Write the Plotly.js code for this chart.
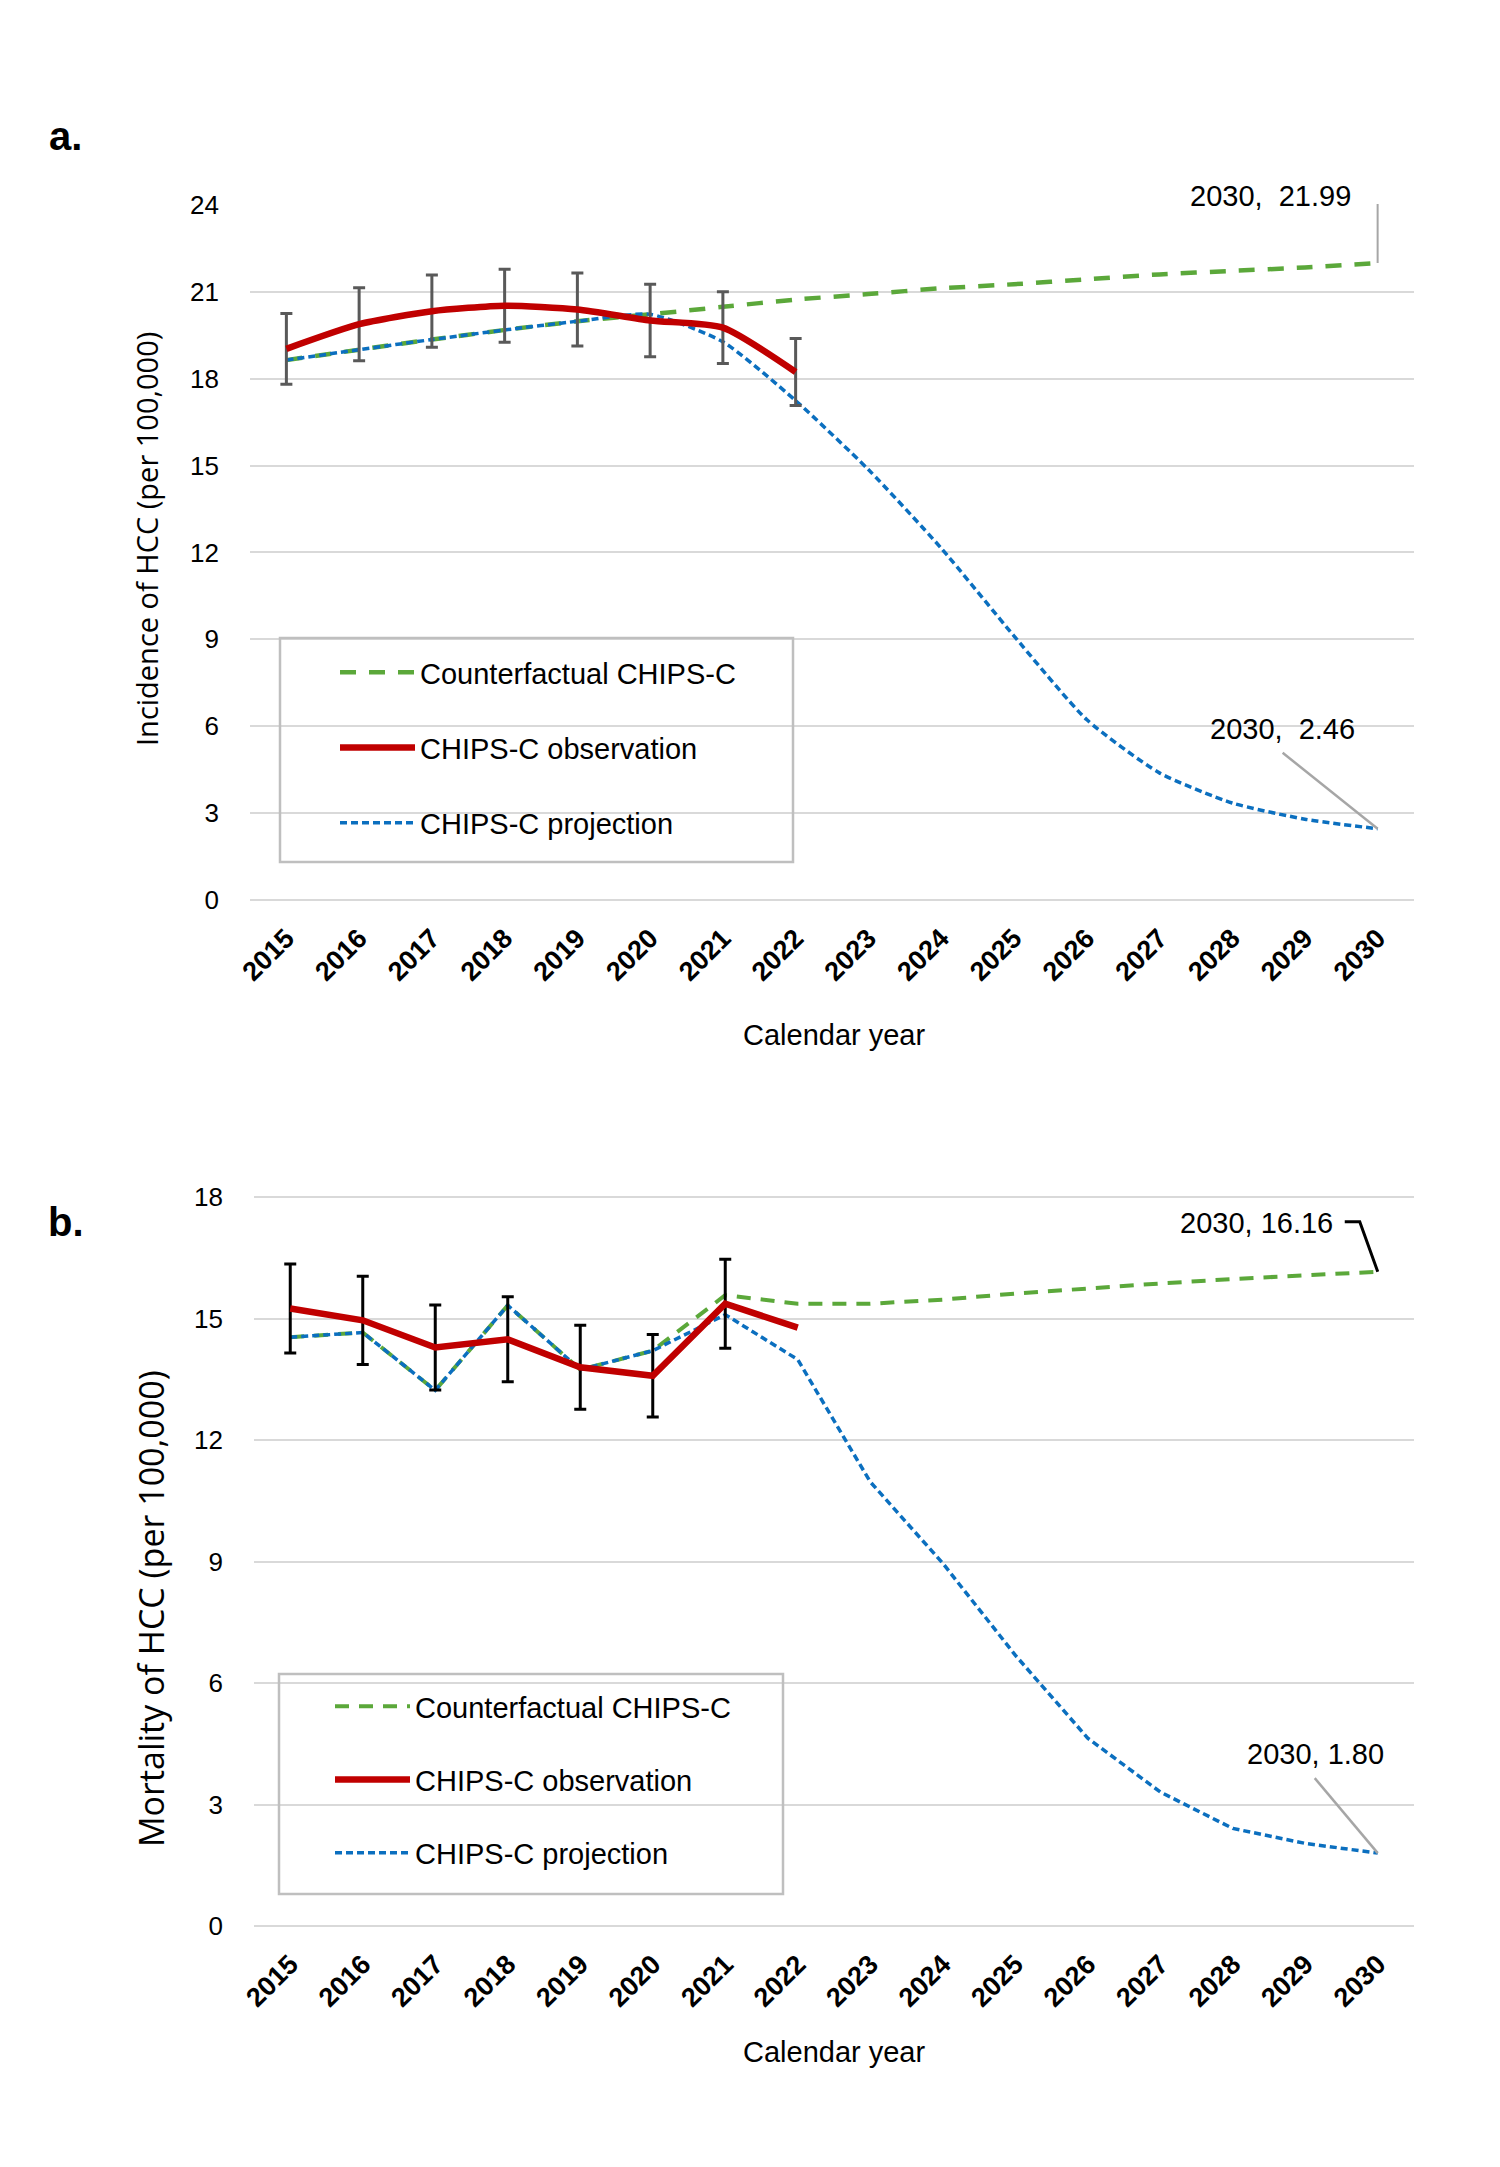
<!DOCTYPE html>
<html>
<head>
<meta charset="utf-8">
<script src="https://cdn.plot.ly/plotly-3.0.1.min.js"></script>
<style>
  body { margin: 0; background: #fff; }
  #myDiv { width: 1500px; height: 2167px; }
</style>
</head>
<body>
<div id="myDiv"></div>
<script>
// calendar years (category axis)
var years = ['2015','2016','2017','2018','2019','2020','2021','2022',
             '2023','2024','2025','2026','2027','2028','2029','2030'];
var obsYears = years.slice(0, 8);

// a. incidence of HCC (per 100,000)
var incCounter = [18.64, 19.00, 19.35, 19.68, 19.98, 20.22, 20.48, 20.73,
                  20.92, 21.12, 21.26, 21.43, 21.60, 21.72, 21.84, 21.99];
var incObs     = [19.03, 19.88, 20.33, 20.52, 20.39, 20.01, 19.76, 18.23];
var incObsErr  = [1.22, 1.26, 1.25, 1.26, 1.26, 1.25, 1.24, 1.16];
var incProj    = [18.64, 19.00, 19.35, 19.68, 19.98, 20.22, 19.27, 17.24,
                  14.86, 12.15, 9.12, 6.23, 4.39, 3.35, 2.79, 2.46];

// b. mortality of HCC (per 100,000)
var morCounter = [14.54, 14.66, 13.23, 15.33, 13.74, 14.21, 15.58, 15.37,
                  15.37, 15.47, 15.62, 15.75, 15.87, 15.98, 16.07, 16.16];
var morObs     = [15.25, 14.96, 14.29, 14.49, 13.80, 13.59, 15.37, 14.78];
var morObsErr  = [1.10, 1.09, 1.05, 1.05, 1.04, 1.02, 1.10, NaN];
var morProj    = [14.54, 14.66, 13.23, 15.33, 13.74, 14.21, 15.10, 13.99,
                  10.97, 8.96, 6.69, 4.64, 3.31, 2.41, 2.04, 1.80];

var W = 1500, H = 2167;
function px(v) { return v / W; }
function py(v) { return 1 - v / H; }

var GREEN = '#5BA83A', RED = '#C00000', BLUE = '#0B6FBF';
var LAB = 'Liberation Sans, Arial, sans-serif';
var TITLE = 'Open Sans, DejaVu Sans, sans-serif';
var LAST = years.length - 1;   // category index of 2030

function makeTraces(xa, ya, leg, counter, obs, err, proj, errColor, smooth) {
  var shape = smooth ? 'spline' : 'linear';
  return [
    {
      x: years, y: counter, xaxis: xa, yaxis: ya, legend: leg,
      type: 'scatter', mode: 'lines', name: 'Counterfactual CHIPS-C',
      legendgroup: leg + 'g', legendrank: 1,
      line: {color: GREEN, width: smooth ? 4.5 : 4, dash: smooth ? '16px,13px' : '14px,10px', shape: shape, smoothing: 0.6}
    },
    {
      x: years, y: proj, xaxis: xa, yaxis: ya, legend: leg,
      type: 'scatter', mode: 'lines', name: 'CHIPS-C projection',
      legendgroup: leg + 'b', legendrank: 3,
      line: {color: BLUE, width: 3.5, dash: '7px,4px', shape: shape, smoothing: 0.6}
    },
    {
      x: obsYears, y: obs, xaxis: xa, yaxis: ya, legend: leg,
      type: 'scatter', mode: 'lines', name: 'CHIPS-C observation',
      legendgroup: leg + 'r', legendrank: 2,
      line: {color: RED, width: 6.5, shape: shape, smoothing: 0.6},
      error_y: {type: 'data', array: err, visible: true, color: errColor, thickness: 3, width: 6}
    }
  ];
}

var data = []
  .concat(makeTraces('x', 'y', 'legend', incCounter, incObs, incObsErr, incProj, '#595959', true))
  .concat(makeTraces('x2', 'y2', 'legend2', morCounter, morObs, morObsErr, morProj, '#000000', false));

function xAxis(domain, anchor) {
  return {
    domain: domain, anchor: anchor, type: 'category', range: [-0.5, 15.5],
    showgrid: false, zeroline: false, showline: false, ticks: '',
    tickangle: -45, ticklabelstandoff: 16,
    tickfont: {family: LAB, size: 27, color: '#000', weight: 'bold'},
    fixedrange: true
  };
}
function yAxis(domain, anchor, max) {
  return {
    domain: domain, anchor: anchor, range: [0, max + 0.03], dtick: 3, tick0: 0,
    showgrid: true, gridcolor: '#D9D9D9', gridwidth: 2,
    zeroline: true, zerolinecolor: '#D9D9D9', zerolinewidth: 2,
    showline: false, ticks: '', ticklabelstandoff: 30,
    tickfont: {family: LAB, size: 26, color: '#000'},
    fixedrange: true
  };
}
function legendBox(x0, y0, gap) {
  return {
    x: px(x0), y: py(y0), xanchor: 'left', yanchor: 'top',
    bgcolor: 'rgba(0,0,0,0)', borderwidth: 0, itemwidth: 75,
    font: {family: LAB, size: 29, color: '#000'},
    traceorder: 'grouped', tracegroupgap: gap
  };
}
function rect(x0, y0, x1, y1) {
  return {type: 'rect', xref: 'paper', yref: 'paper',
          x0: px(x0), x1: px(x1), y0: py(y0), y1: py(y1),
          line: {color: '#BFBFBF', width: 2.5}, fillcolor: 'rgba(0,0,0,0)'};
}
// leader line anchored on the labelled data point, path in pixels
function leader(xa, ya, yv, path, color, w) {
  return {type: 'path', xref: xa, yref: ya, xsizemode: 'pixel', ysizemode: 'pixel',
          xanchor: LAST, yanchor: yv, path: path,
          line: {color: color, width: w}};
}
function valueLabel(xa, ya, yv, text, dx, dy) {
  return {xref: xa, yref: ya, x: LAST, y: yv, text: text, showarrow: false,
          xanchor: 'center', yanchor: 'middle',
          xshift: dx, yshift: dy, font: {family: LAB, size: 29, color: '#000'}};
}
function note(x, y, text, font, extra) {
  var a = {xref: 'paper', yref: 'paper', x: px(x), y: py(y), text: text,
           xanchor: 'center', yanchor: 'middle', showarrow: false, font: font};
  for (var k in extra) a[k] = extra[k];
  return a;
}

var incLast = incCounter[LAST], incProjLast = incProj[LAST];
var morLast = morCounter[LAST], morProjLast = morProj[LAST];

var layout = {
  width: W, height: H,
  margin: {l: 0, r: 0, t: 0, b: 0},
  paper_bgcolor: '#fff', plot_bgcolor: '#fff',
  xaxis: xAxis([px(250), px(1414)], 'y'),
  yaxis: yAxis([py(900), py(204)], 'x', 24),
  xaxis2: xAxis([px(254), px(1414)], 'y2'),
  yaxis2: yAxis([py(1926), py(1196)], 'x2', 18),
  legend: legendBox(335, 647, 34.5),
  legend2: legendBox(330, 1681, 32.5),
  shapes: [
    rect(280, 638, 793, 862),
    rect(279, 1674, 783, 1894),
    leader('x', 'y', incLast, 'M0,0 L0,69 L-15,69', '#A6A6A6', 2),
    leader('x', 'y', incProjLast, 'M0,0 L-95,76', '#A6A6A6', 2.5),
    leader('x2', 'y2', morLast, 'M0,0 L-18,50 L-33,50', '#000000', 3),
    leader('x2', 'y2', morProjLast, 'M0,0 L-63,75', '#A6A6A6', 2.5)
  ],
  annotations: [
    note(47, 136, 'a.', {family: LAB, size: 40, color: '#000', weight: 'bold'}, {xanchor: 'left'}),
    note(46, 1222, 'b.', {family: LAB, size: 40, color: '#000', weight: 'bold'}, {xanchor: 'left'}),
    note(147, 539, 'Incidence of HCC (per 100,000)', {family: TITLE, size: 29, color: '#000'}, {textangle: -90}),
    note(151, 1609, 'Mortality of HCC (per 100,000)', {family: TITLE, size: 34, color: '#000'}, {textangle: -90}),
    note(834, 1035, 'Calendar year', {family: LAB, size: 29, color: '#000'}, {}),
    note(834, 2052, 'Calendar year', {family: LAB, size: 29, color: '#000'}, {}),
    valueLabel('x', 'y', incLast, '2030,  ' + incLast.toFixed(2), -107, 67),
    valueLabel('x', 'y', incProjLast, '2030,  ' + incProjLast.toFixed(2), -95, 100),
    valueLabel('x2', 'y2', morLast, '2030, ' + morLast.toFixed(2), -121, 49),
    valueLabel('x2', 'y2', morProjLast, '2030, ' + morProjLast.toFixed(2), -62, 99)
  ],
  showlegend: true
};

Plotly.newPlot('myDiv', data, layout, {staticPlot: true});
</script>
</body>
</html>
